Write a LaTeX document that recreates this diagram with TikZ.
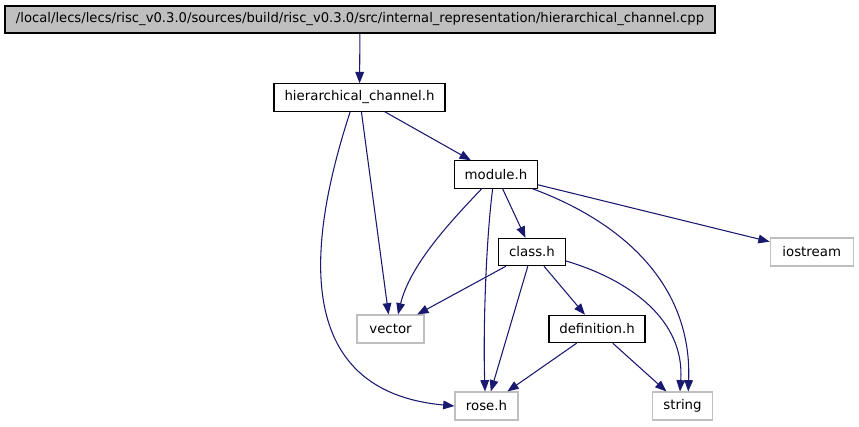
\documentclass[tikz,border=0pt]{standalone}
\usepackage{graphicx}
\usepackage{fontspec}
\setmainfont{DejaVu Sans}
\usetikzlibrary{arrows.meta}
\definecolor{edgeblue}{RGB}{25,25,112}
\definecolor{boxgrey}{RGB}{191,191,191}
\begin{document}
\begin{tikzpicture}[x=0.75pt,y=-0.75pt,
  font=\fontsize{10}{12}\selectfont,
  file/.style={draw=black,line width=0.8pt,inner sep=0pt,minimum height=20.5pt},
  sysfile/.style={draw=boxgrey,line width=0.8pt,inner sep=0pt,minimum height=21pt},
  dep/.style={edgeblue,line width=0.8pt,-{Triangle[length=8.5pt,width=6.5pt]}}]
\useasboundingbox (0,0) rectangle (859,427);
\node[file,fill=boxgrey,minimum width=532.5pt,minimum height=20.25pt] (cpp) at (360,19.5)
{\resizebox{516pt}{\height}{/local/lecs/lecs/risc\_v0.3.0/sources/build/risc\_v0.3.0/src/internal\_representation/hierarchical\_channel.cpp}};
\foreach \n/\x/\y/\w/\t in {hc/359.5/97.5/171/hierarchical\_channel.h,module/496/174.5/83/module.h,class/532/252/67/class.h,definition/597/329/96/definition.h}
\node[file,minimum width=\w*0.75pt] (\n) at (\x,\y) {\t};
\foreach \n/\x/\y/\w/\t in {vector/390.5/329/67/vector,rose/486.5/406/63/rose.h,string/682.5/406/60/string,iostream/811.7/252/83/iostream}
\node[sysfile,minimum width=\w*0.75pt] (\n) at (\x,\y) {\t};
\draw[dep] (cpp) -- (hc);
\foreach \a/\b in {hc/module,hc/vector,module/class,module/iostream,class/vector,class/rose,class/definition,definition/rose,definition/string}
\draw[dep] (\a) -- (\b);
\draw[dep] ([xshift=-7pt]hc.south) .. controls (315,220) and (280,390) .. (rose.west);
\draw[dep] ([xshift=-10.7pt]module.south) .. controls (450,222) and (410,265) .. ([xshift=5.6pt]vector.north);
\draw[dep] ([xshift=-2.5pt]module.south) .. controls (486,240) and (483,330) .. ([xshift=-1.1pt]rose.north);
\draw[dep] ([xshift=-4.2pt]module.south east) .. controls (630,225) and (692,290) .. ([xshift=4.3pt]string.north);
\draw[dep] ([yshift=-6.75pt]class.east) .. controls (630,280) and (685,320) .. ([xshift=-1.9pt]string.north);
\end{tikzpicture}
\end{document}
